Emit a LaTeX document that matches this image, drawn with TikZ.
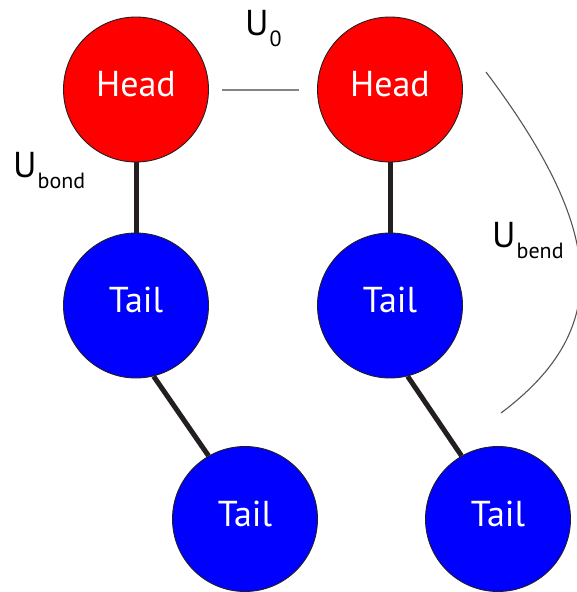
\documentclass[tikz,border=0pt]{standalone}
\usepackage{fontspec}
\setmainfont{PT Sans}

\definecolor{headred}{HTML}{FF0000}
\definecolor{tailblue}{HTML}{0000FF}
\definecolor{ink}{HTML}{231F20}
\definecolor{linkgray}{HTML}{858585}
\definecolor{arcgray}{HTML}{555555}

% energy label: a large U with a lowered subscript word
\newcommand{\potlabel}[1]{U\kern1pt\raisebox{-11pt}{\fontsize{22}{22}\selectfont #1}}

\tikzset{
  bead/.style={circle, draw=ink, line width=0.9pt, minimum size=145pt,
    inner sep=0pt, text=white, font=\fontsize{36}{36}\selectfont,
    text height=26pt, text depth=12pt},
  headbead/.style={bead, fill=headred},
  tailbead/.style={bead, fill=tailblue},
  bondline/.style={draw=ink, line width=5pt},
  pairlink/.style={draw=linkgray, line width=2pt},
  bendarc/.style={draw=arcgray, line width=1.1pt},
  energy/.style={anchor=base west, inner sep=0pt, text=black,
    font=\fontsize{36}{36}\selectfont}
}

\begin{document}
\begin{tikzpicture}[x=1pt, y=-1pt]
  \useasboundingbox (0,0) rectangle (577,592);

  % left lipid
  \node[headbead] (headA) at (136,89.5) {Head};
  \node[tailbead] (tailA) at (136,305.5) {Tail};
  \node[tailbead] (tailAA) at (245,519) {Tail};

  % right lipid
  \node[headbead] (headB) at (390,89.5) {Head};
  \node[tailbead] (tailB) at (390,305.5) {Tail};
  \node[tailbead] (tailBB) at (498,519) {Tail};

  % bonds
  \draw[bondline] (headA) -- (tailA);
  \draw[bondline] (tailA.-76) -- (tailAA.120);
  \draw[bondline] (headB) -- (tailB);
  \draw[bondline] (tailB.-76) -- (tailBB.120);

  % head-head interaction
  \draw[pairlink] ([xshift=13pt]headA.east) -- ([xshift=-18pt]headB.west);

  % bending arc
  \coordinate (bendtop) at (486,72);
  \coordinate (bendbot) at (501,413);
  \draw[bendarc] (bendtop) .. controls (606,232) and (613,329) .. (bendbot);

  % energy labels
  \node[energy] (uzero) at (245,35) {\potlabel{0}};
  \node[energy] (ubond) at (13,177) {\potlabel{bond}};
  \node[energy] (ubend) at (492,247) {\potlabel{bend}};
\end{tikzpicture}
\end{document}
